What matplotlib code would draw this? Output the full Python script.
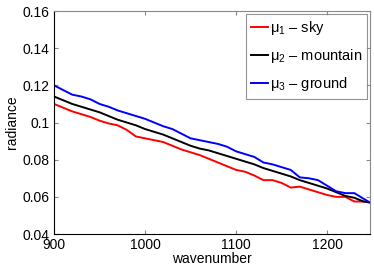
import numpy as np
import matplotlib
matplotlib.use("Agg")
import matplotlib.pyplot as plt

plt.rcParams['font.family'] = ['Liberation Sans', 'DejaVu Sans']
plt.rcParams['mathtext.fontset'] = 'custom'
plt.rcParams['mathtext.rm'] = 'Liberation Sans'

wavenumber = [900, 910, 920, 930, 940, 950, 960, 970, 980, 990,
              1000, 1010, 1020, 1030, 1040, 1050, 1060, 1070, 1080, 1090,
              1100, 1110, 1120, 1130, 1140, 1150, 1160, 1170, 1180, 1190,
              1200, 1210, 1220, 1230, 1240, 1247]

sky = [0.1100, 0.1080, 0.1060, 0.1045, 0.1030, 0.1010, 0.0995, 0.0985, 0.0960, 0.0925,
       0.0915, 0.0905, 0.0895, 0.0875, 0.0855, 0.0840, 0.0825, 0.0805, 0.0785, 0.0765,
       0.0745, 0.0735, 0.0715, 0.0690, 0.0690, 0.0675, 0.0650, 0.0655, 0.0640, 0.0625,
       0.0610, 0.0600, 0.0600, 0.0575, 0.0575, 0.0570]

mountain = [0.1140, 0.1120, 0.1100, 0.1085, 0.1070, 0.1055, 0.1035, 0.1015, 0.1000, 0.0985,
            0.0965, 0.0950, 0.0935, 0.0915, 0.0895, 0.0875, 0.0860, 0.0850, 0.0835, 0.0820,
            0.0805, 0.0790, 0.0775, 0.0755, 0.0740, 0.0725, 0.0710, 0.0690, 0.0675, 0.0660,
            0.0645, 0.0625, 0.0605, 0.0595, 0.0575, 0.0570]

ground = [0.1200, 0.1175, 0.1150, 0.1140, 0.1125, 0.1100, 0.1085, 0.1065, 0.1050, 0.1035,
          0.1020, 0.1000, 0.0980, 0.0965, 0.0940, 0.0915, 0.0905, 0.0895, 0.0885, 0.0870,
          0.0845, 0.0830, 0.0815, 0.0785, 0.0775, 0.0760, 0.0745, 0.0705, 0.0700, 0.0690,
          0.0660, 0.0630, 0.0620, 0.0620, 0.0590, 0.0570]

labels = ['μ$_1$ – sky', 'μ$_2$ – mountain', 'μ$_3$ – ground']

fig = plt.figure(figsize=(3.74, 2.69), dpi=100)
ax = fig.add_axes([0.1444, 0.130, 0.8446, 0.829])

ax.plot(wavenumber, sky, color='#ff0000', lw=1.4, label=labels[0])
ax.plot(wavenumber, mountain, color='black', lw=1.4, label=labels[1])
ax.plot(wavenumber, ground, color='#0000ff', lw=1.4, label=labels[2])

ax.set_xlim(900, 1247)
ax.set_ylim(0.04, 0.16)
ax.set_xticks([900, 1000, 1100, 1200])
ax.set_yticks([0.04, 0.06, 0.08, 0.1, 0.12, 0.14, 0.16])
ax.set_yticklabels(['0.04', '0.06', '0.08', '0.1', '0.12', '0.14', '0.16'])
ax.tick_params(direction='in', top=True, right=True, labelsize=10, length=3,
               color='#888888', pad=3)
ax.spines['top'].set_color('#888888')
ax.spines['right'].set_color('#888888')
ax.set_xlabel('wavenumber', fontsize=10, labelpad=0)
ax.set_ylabel('radiance', fontsize=10, labelpad=3)

leg = ax.legend(loc='upper right', fontsize=10.5, handlelength=1.2, handletextpad=0.1,
                borderpad=0.35, labelspacing=0.7, borderaxespad=0.2, fancybox=False)
leg.get_frame().set_edgecolor('#777777')
leg.get_frame().set_linewidth(0.8)

fig.savefig('out.png', dpi=100)
